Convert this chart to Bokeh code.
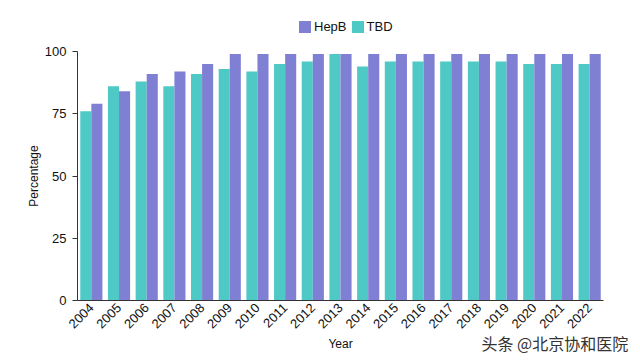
import math
from bokeh.plotting import figure
from bokeh.models import ColumnDataSource, Range1d, Legend, LegendItem, Label, FixedTicker
from bokeh.embed import file_html
from bokeh.resources import INLINE

years = ["2004", "2005", "2006", "2007", "2008", "2009", "2010", "2011", "2012", "2013",
         "2014", "2015", "2016", "2017", "2018", "2019", "2020", "2021", "2022"]
hepb = [79, 84, 91, 92, 95, 99, 99, 99, 99, 99, 99, 99, 99, 99, 99, 99, 99, 99, 99]
tbd = [76, 86, 88, 86, 91, 93, 92, 95, 96, 99, 94, 96, 96, 96, 96, 96, 95, 95, 95]
y_ticks = [0, 25, 50, 75, 100]

HEPB_C = "#7f80d4"
TBD_C = "#4ec9c5"
FONT = "Liberation Sans"

# canvas geometry (px)
W, H = 640, 360
X0_PX, X1_PX = 77, 603     # left / right end of the category axis
Y0_PX, Y100_PX = 300, 51   # pixel rows of value 0 and 100

n = len(years)
xs = list(range(n))
px_per_cat = (X1_PX - X0_PX) / n
px_per_unit = (Y0_PX - Y100_PX) / 100.0
x_lo = -0.5 - X0_PX / px_per_cat
x_hi = -0.5 + (W - X0_PX) / px_per_cat
y_hi = Y0_PX / px_per_unit
y_lo = -(H - Y0_PX) / px_per_unit

src = ColumnDataSource(dict(x=xs, x_tbd=[v - 0.2 for v in xs], x_hepb=[v + 0.2 for v in xs],
                            year=years, hepb=hepb, tbd=tbd))

p = figure(width=W, height=H, x_range=Range1d(x_lo, x_hi), y_range=Range1d(y_lo, y_hi),
           output_backend="svg", toolbar_location=None,
           min_border_left=0, min_border_right=0, min_border_top=0, min_border_bottom=0)

r_tbd = p.vbar(x="x_tbd", top="tbd", bottom=0, width=0.4, source=src,
               fill_color=TBD_C, line_color=None)
r_hepb = p.vbar(x="x_hepb", top="hepb", bottom=0, width=0.4, source=src,
                fill_color=HEPB_C, line_color=None)

p.grid.visible = False
p.outline_line_color = None
p.background_fill_color = "white"
p.border_fill_color = "white"

yax = p.yaxis[0]
yax.fixed_location = -0.5
yax.ticker = FixedTicker(ticks=y_ticks)
yax.bounds = (0, 100)
yax.minor_tick_line_color = None
yax.major_tick_in = 0
yax.major_tick_out = 5
yax.major_label_standoff = 6
yax.axis_line_color = "#333333"
yax.major_tick_line_color = "#333333"
yax.major_label_text_font = FONT
yax.major_label_text_font_size = "13px"
yax.major_label_text_color = "#111111"

xax = p.xaxis[0]
xax.fixed_location = 0
xax.bounds = (-0.5, n - 0.5)
xax.ticker = FixedTicker(ticks=xs)
xax.major_label_overrides = {i: y for i, y in zip(xs, years)}
xax.major_tick_line_color = None
xax.minor_tick_line_color = None
xax.major_tick_out = 0
xax.major_tick_in = 0
xax.axis_line_color = "#333333"
xax.major_label_orientation = math.pi / 4
xax.major_label_text_font = FONT
xax.major_label_text_font_size = "13px"
xax.major_label_text_color = "#111111"
xax.major_label_standoff = 5

p.add_layout(Label(x=(n - 1) / 2.0, y=H - 343, x_units="data", y_units="screen", text="Year",
                   text_align="center", text_baseline="middle",
                   text_font=FONT, text_font_size="12px", text_color="#111111"))
p.add_layout(Label(x=33, y=50, x_units="screen", y_units="data", text="Percentage",
                   angle=math.pi / 2, text_align="center", text_baseline="middle",
                   text_font=FONT, text_font_size="12px", text_color="#111111"))

legend = Legend(items=[LegendItem(label="HepB", renderers=[r_hepb]),
                       LegendItem(label="TBD", renderers=[r_tbd])],
                orientation="horizontal", location=(297, H - 34),
                padding=0, margin=0, spacing=3, label_standoff=2,
                glyph_width=15, glyph_height=15,
                label_text_font=FONT, label_text_font_size="13px", label_text_color="#111111",
                border_line_color=None, background_fill_alpha=0)
p.add_layout(legend, "center")

p.add_layout(Label(x=481, y=H - 342, x_units="screen", y_units="screen", text="头条 @北京协和医院",
                   text_baseline="middle",
                   text_font="Noto Sans CJK SC", text_font_size="16px", text_color="#333333"))

open("out.html", "w").write(file_html(p, INLINE))
